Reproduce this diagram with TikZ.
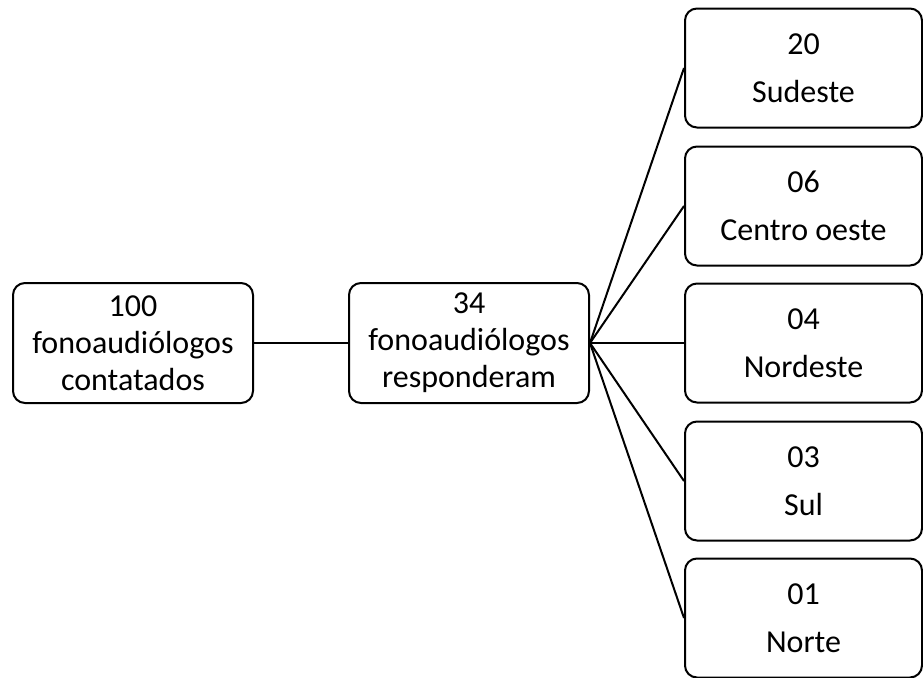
\documentclass[tikz,border=0pt]{standalone}
\usepackage{fontspec}
\setmainfont{Carlito}
\begin{document}
\begin{tikzpicture}[x=.5pt, y=-.5pt,
    caixa/.style={draw, line width=1pt, rounded corners=6pt, align=center, inner sep=0pt,
      minimum height=60pt, font=\fontsize{16}{18.5}\selectfont}]
  \useasboundingbox (0,0) rectangle (923,677);

  \node[caixa, minimum width=120pt] (contatados) at (133,343) {100\\fonoaudiólogos\\contatados};
  \node[caixa, minimum width=120pt] (responderam) at (469,343) {34\\fonoaudiólogos\\responderam};
  \draw[line width=1pt] (contatados) -- (responderam);

  % regioes
  \foreach \i/\num/\reg/\y in {1/20/Sudeste/68, 2/06/Centro oeste/206, 3/04/Nordeste/343,
                               4/03/Sul/481, 5/01/Norte/618} {
      \node[caixa, minimum width=118.5pt, minimum height=59.5pt] (reg\i) at (803.5,\y) {\num\\[5.5pt]\reg};
      \draw[line width=1pt] (responderam.east) -- (reg\i.west);
    }
\end{tikzpicture}
\end{document}
